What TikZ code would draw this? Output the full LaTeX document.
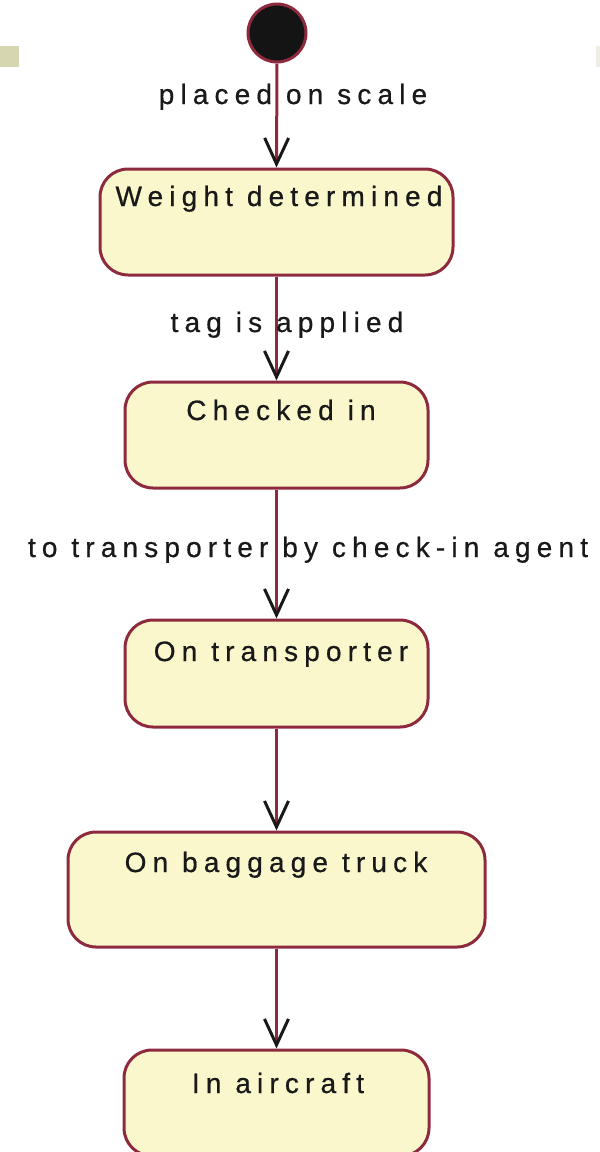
\documentclass[tikz,border=0pt]{standalone}
\usepackage{fontspec}
\newfontfamily\lblfont{Liberation Sans}[LetterSpace=22, FakeBold=0.6]
\usetikzlibrary{arrows.meta}
\definecolor{brd}{RGB}{142,42,62}
\definecolor{boxfill}{RGB}{250,247,205}
\definecolor{grayL}{RGB}{214,214,176}
\definecolor{grayR}{RGB}{238,238,228}
\tikzset{
  statebox/.style={draw=brd, fill=boxfill, line width=3pt, rounded corners=28pt, inner sep=0pt},
  stxt/.style={anchor=base, inner sep=0pt, font=\lblfont\fontsize{28}{28}\selectfont, text=black!90},
  conn/.style={draw=brd, line width=3pt, -{Straight Barb[length=26pt, width=24pt, line width=3pt, color=black!90]}},
  startnode/.style={circle, draw=brd, fill=black!92, line width=3pt, minimum size=58pt, inner sep=0pt}
}
\begin{document}
\begin{tikzpicture}[x=1pt, y=-1pt]
\useasboundingbox (0,0) rectangle (600,1152);
\fill[grayL] (0,46) rectangle (19,67);
\fill[grayR] (596,46) rectangle (600,67);
\node[startnode] (s) at (277,33) {};
\node[statebox, minimum width=353pt, minimum height=106pt] (w) at (276.5,222) {};
\node[statebox, minimum width=303pt, minimum height=106pt] (c) at (276.5,435) {};
\node[statebox, minimum width=303pt, minimum height=107pt] (t) at (276.5,673.5) {};
\node[statebox, minimum width=417pt, minimum height=115pt] (b) at (276.5,889.5) {};
\node[statebox, minimum width=305pt, minimum height=106pt] (a) at (276.5,1103) {};
\node[stxt] (wt) at (279,206) {Weight determined};
\node[stxt] (ct) at (281,420) {Checked in};
\node[stxt] (tt) at (281,661) {On transporter};
\node[stxt] (bt) at (276,872) {On baggage truck};
\node[stxt] (at) at (278,1093) {In aircraft};
\draw[conn] (s.south) -- (w.north);
\draw[conn] (w.south) -- (c.north);
\draw[conn] (c.south) -- (t.north);
\draw[conn] (t.south) -- (b.north);
\draw[conn] (b.south) -- (a.north);
\node[stxt] (l1) at (293,104) {placed on scale};
\node[stxt] (l2) at (287,332) {tag is applied};
\node[stxt] (l3) at (308,557) {to transporter by check-in agent};
\end{tikzpicture}
\end{document}
